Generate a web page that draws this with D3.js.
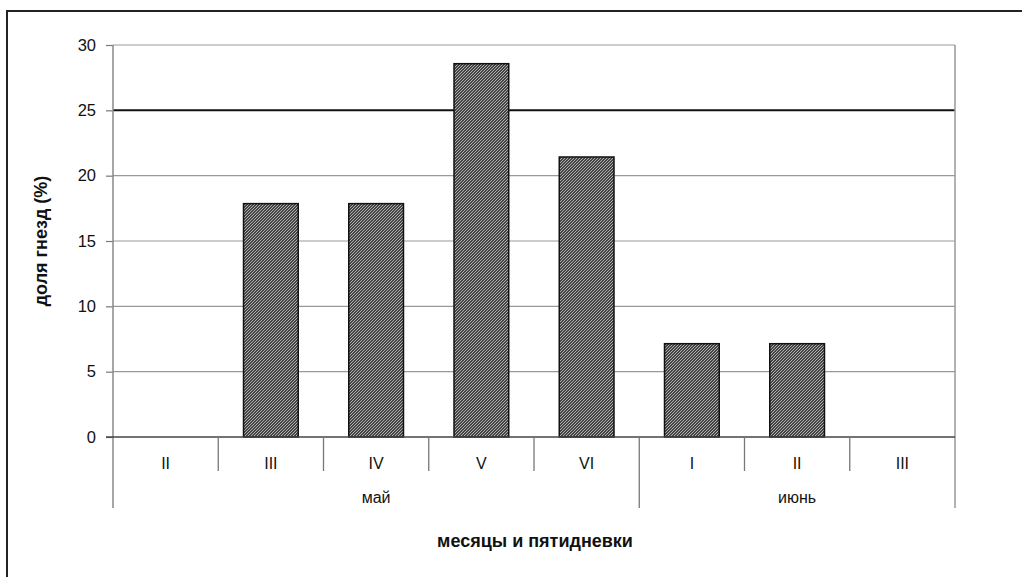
<!DOCTYPE html>
<html>
<head>
<meta charset="utf-8">
<script src="https://d3js.org/d3.v7.min.js"></script>
<style>
  body { margin: 0; background: #fff; }
  text { font-family: "Liberation Sans", Arial, sans-serif; fill: #111; }
</style>
</head>
<body>
<svg id="chart"></svg>
<script>
var categories = ["II", "III", "IV", "V", "VI", "I", "II", "III"];
var months = [{label: "май", from: 0, to: 5}, {label: "июнь", from: 5, to: 8}];
var values = [0, 17.86, 17.86, 28.57, 21.43, 7.14, 7.14, 0];
var yTicks = [0, 5, 10, 15, 20, 25, 30];
var refLine = 25;

var width = 1022, height = 577;
var margin = {left: 113, right: 67, top: 45, bottom: 140};

var svg = d3.select("#chart").attr("width", width).attr("height", height);

// hatched fill like the old excel pattern
var defs = svg.append("defs");
var pat = defs.append("pattern")
    .attr("id", "hatch")
    .attr("patternUnits", "userSpaceOnUse")
    .attr("width", 3).attr("height", 3);
pat.append("rect").attr("width", 3).attr("height", 3).attr("fill", "#444");
pat.append("path").attr("d", "M-1,1 l2,-2 M0,3 l3,-3 M2,4 l2,-2")
    .attr("stroke", "#bdbdbd").attr("stroke-width", 0.9);

// outer frame (cut off at right and bottom)
svg.append("rect")
    .attr("x", 7).attr("y", 11)
    .attr("width", 1040).attr("height", 620)
    .attr("fill", "none").attr("stroke", "#222").attr("stroke-width", 2);

var x = d3.scaleBand()
    .domain(d3.range(categories.length))
    .range([margin.left, width - margin.right])
    .paddingInner(0.48).paddingOuter(0.24);
var xEdge = d3.scaleLinear().domain([0, categories.length]).range([margin.left, width - margin.right]);

var y = d3.scaleLinear().domain([0, 30]).range([437, margin.top]);

// gridlines
svg.append("g").selectAll("line")
    .data(yTicks.filter(function(d){ return d > 0; }))
    .enter().append("line")
    .attr("x1", margin.left).attr("x2", width - margin.right)
    .attr("y1", function(d){ return y(d); })
    .attr("y2", function(d){ return y(d); })
    .attr("stroke", function(d){ return d == refLine ? "#111" : "#999"; })
    .attr("stroke-width", function(d){ return d == refLine ? 2 : 1.2; });

// y axis
var yAxis = svg.append("g")
    .attr("transform", "translate(" + margin.left + ",0)")
    .call(d3.axisLeft(y).tickValues(yTicks).tickSize(7).tickPadding(10));
yAxis.select(".domain").remove();
yAxis.selectAll("line").attr("stroke", "#777").attr("stroke-width", 1.2);
yAxis.selectAll("text").style("font-size", "16.5px").attr("fill", "#111");
svg.append("line")
    .attr("x1", margin.left).attr("x2", margin.left)
    .attr("y1", margin.top).attr("y2", 508)
    .attr("stroke", "#888").attr("stroke-width", 1.5);
svg.append("line")
    .attr("x1", width - margin.right).attr("x2", width - margin.right)
    .attr("y1", margin.top).attr("y2", 508)
    .attr("stroke", "#999").attr("stroke-width", 1.5);

// bars
var barData = values.map(function(v, i){ return {i: i, v: v}; })
    .filter(function(d){ return d.v > 0; });
svg.append("g").selectAll("rect")
    .data(barData)
    .enter().append("rect")
    .attr("x", function(d){ return x(d.i); })
    .attr("y", function(d){ return y(d.v); })
    .attr("width", x.bandwidth())
    .attr("height", function(d){ return y(0) - y(d.v); })
    .attr("fill", "url(#hatch)")
    .attr("stroke", "#111").attr("stroke-width", 1.5);

// baseline
svg.append("line")
    .attr("x1", margin.left - 7).attr("x2", width - margin.right)
    .attr("y1", y(0)).attr("y2", y(0))
    .attr("stroke", "#444").attr("stroke-width", 1.5);

// category separators and labels
svg.append("g").selectAll("line")
    .data(d3.range(1, categories.length))
    .enter().append("line")
    .attr("x1", function(d){ return xEdge(d); })
    .attr("x2", function(d){ return xEdge(d); })
    .attr("y1", y(0)).attr("y2", function(d){
        return months.some(function(m){ return m.from == d; }) ? 508 : 471;
    })
    .attr("stroke", "#777").attr("stroke-width", 1.3);

svg.append("g").selectAll("text")
    .data(categories)
    .enter().append("text")
    .attr("x", function(d, i){ return xEdge(i + 0.5); })
    .attr("y", 469)
    .attr("text-anchor", "middle")
    .style("font-size", "16px")
    .text(function(d){ return d; });

svg.append("g").selectAll("text")
    .data(months)
    .enter().append("text")
    .attr("x", function(d){ return xEdge((d.from + d.to) / 2); })
    .attr("y", 503)
    .attr("text-anchor", "middle")
    .style("font-size", "16px")
    .text(function(d){ return d.label; });

// axis titles
svg.append("text")
    .attr("x", 535).attr("y", 547)
    .attr("text-anchor", "middle")
    .style("font-size", "18px").style("font-weight", "bold")
    .text("месяцы и пятидневки");

svg.append("text")
    .attr("transform", "translate(47,241) rotate(-90)")
    .attr("text-anchor", "middle")
    .style("font-size", "18px").style("font-weight", "bold")
    .text("доля гнезд (%)");
</script>
</body>
</html>
